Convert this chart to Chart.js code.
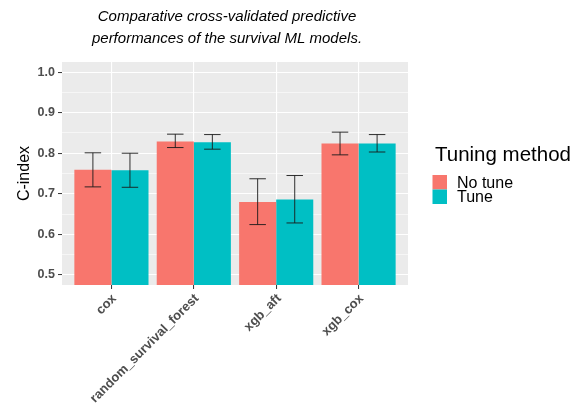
<!DOCTYPE html>
<html>
<head>
<meta charset="utf-8">
<script src="https://cdn.jsdelivr.net/npm/chart.js@4"></script>
<style>
  html, body { margin: 0; padding: 0; background: #fff; }
  #wrap { width: 573px; height: 412px; }
</style>
</head>
<body>
<div id="wrap"><canvas id="chart" width="573" height="412"></canvas></div>
<script>
// model names on the x axis
const models = ['cox', 'random_survival_forest', 'xgb_aft', 'xgb_cox'];

// mean C-index per tuning method
const noTune = [0.759, 0.829, 0.680, 0.824];
const tune = [0.758, 0.827, 0.686, 0.824];

// error bar ends
const noTuneLow = [0.717, 0.814, 0.624, 0.796];
const noTuneHigh = [0.801, 0.847, 0.737, 0.852];
const tuneLow = [0.716, 0.810, 0.628, 0.803];
const tuneHigh = [0.800, 0.846, 0.745, 0.846];

const yTicks = [0.5, 0.6, 0.7, 0.8, 0.9, 1.0];
const titleLines = ['Comparative cross-validated predictive', 'performances of the survival ML models.'];
const legendTitle = 'Tuning method';

const FONT = '"Liberation Sans", Arial, Helvetica, sans-serif';

function points(vals) {
    return vals.map((v, i) => ({ x: i, y: v }));
}

// grey ggplot panel behind everything
const panelBg = {
    id: 'panelBg',
    beforeDraw(chart) {
        const a = chart.chartArea;
        const ctx = chart.ctx;
        ctx.save();
        ctx.fillStyle = '#EBEBEB';
        ctx.fillRect(a.left, a.top, a.right - a.left, a.bottom - a.top);
        ctx.restore();
    }
};

// error bars, title text and legend
const extras = {
    id: 'extras',
    afterDatasetsDraw(chart) {
        const ctx = chart.ctx;
        const ys = chart.scales.y;
        const xs = chart.scales.x;
        const cap = (xs.getPixelForValue(1) - xs.getPixelForValue(0)) * 0.1;
        const ranges = [[noTuneLow, noTuneHigh], [tuneLow, tuneHigh]];
        ctx.save();
        ctx.strokeStyle = '#1A1A1A';
        ctx.lineWidth = 0.9;
        chart.data.datasets.forEach((ds, di) => {
            const meta = chart.getDatasetMeta(di);
            meta.data.forEach((bar, i) => {
                const lo = ys.getPixelForValue(ranges[di][0][i]);
                const hi = ys.getPixelForValue(ranges[di][1][i]);
                ctx.beginPath();
                ctx.moveTo(bar.x - cap, hi); ctx.lineTo(bar.x + cap, hi);
                ctx.moveTo(bar.x, hi); ctx.lineTo(bar.x, lo);
                ctx.moveTo(bar.x - cap, lo); ctx.lineTo(bar.x + cap, lo);
                ctx.stroke();
            });
        });
        ctx.restore();
    },
    afterDraw(chart) {
        const ctx = chart.ctx;
        ctx.save();
        ctx.fillStyle = '#000';
        ctx.textAlign = 'center';
        ctx.textBaseline = 'alphabetic';
        ctx.font = 'italic 15px ' + FONT;
        titleLines.forEach((t, i) => ctx.fillText(t, 227, 21 + i * 21.5));

        // legend
        ctx.textAlign = 'left';
        ctx.font = '20.5px ' + FONT;
        ctx.fillText(legendTitle, 435, 161);
        ctx.font = '16px ' + FONT;
        chart.data.datasets.forEach((ds, i) => {
            const y = 175 + i * 14.5;
            ctx.fillStyle = ds.backgroundColor;
            ctx.fillRect(432.5, y, 14.5, 14.5);
            ctx.fillStyle = '#000';
            ctx.fillText(ds.label, 457, y + 12.5);
        });
        ctx.restore();
    }
};

const isMajor = v => yTicks.some(t => Math.abs(t - v) < 1e-6);

new Chart(document.getElementById('chart'), {
    type: 'bar',
    data: {
        datasets: [
            { label: 'No tune', data: points(noTune), backgroundColor: '#F8766D', borderWidth: 0 },
            { label: 'Tune', data: points(tune), backgroundColor: '#00BFC4', borderWidth: 0 }
        ]
    },
    options: {
        responsive: false,
        animation: false,
        categoryPercentage: 0.9,
        barPercentage: 1.0,
        layout: { padding: { top: 62, right: 165, left: 0, bottom: 0 } },
        plugins: {
            legend: { display: false },
            title: { display: false },
            tooltip: { enabled: false }
        },
        scales: {
            x: {
                type: 'linear',
                min: -0.6,
                max: 3.6,
                offset: false,
                afterBuildTicks(scale) {
                    scale.ticks = models.map((m, i) => ({ value: i }));
                },
                afterFit(scale) { scale.height = 127; },
                border: { display: false },
                grid: { offset: false, color: '#FFFFFF', lineWidth: 1.1, tickColor: '#333333', tickLength: 4, tickWidth: 1 },
                ticks: {
                    minRotation: 45,
                    maxRotation: 45,
                    padding: 2,
                    labelOffset: 3,
                    color: '#4D4D4D',
                    font: { family: FONT, size: 13, weight: 'bold' },
                    callback: v => models[v]
                }
            },
            y: {
                min: 0.475,
                max: 1.025,
                afterBuildTicks(scale) {
                    const out = [];
                    for (let k = 0; k <= 10; k++) out.push({ value: 0.5 + k * 0.05 });
                    scale.ticks = out;
                },
                afterFit(scale) { scale.width = 62; },
                border: { display: false },
                grid: {
                    color: '#FFFFFF',
                    lineWidth: c => isMajor(c.tick.value) ? 1.1 : 0.55,
                    tickColor: c => isMajor(c.tick.value) ? '#333333' : 'rgba(0,0,0,0)',
                    tickLength: 4,
                    tickWidth: 1
                },
                ticks: {
                    autoSkip: false,
                    padding: 3,
                    color: '#4D4D4D',
                    font: { family: FONT, size: 12.5, weight: 'bold' },
                    callback: v => isMajor(v) ? v.toFixed(1) : ''
                },
                title: {
                    display: true,
                    text: 'C-index',
                    color: '#000',
                    font: { family: FONT, size: 16 },
                    padding: { top: 15, bottom: 0 }
                }
            }
        }
    },
    plugins: [panelBg, extras]
});
</script>
</body>
</html>
